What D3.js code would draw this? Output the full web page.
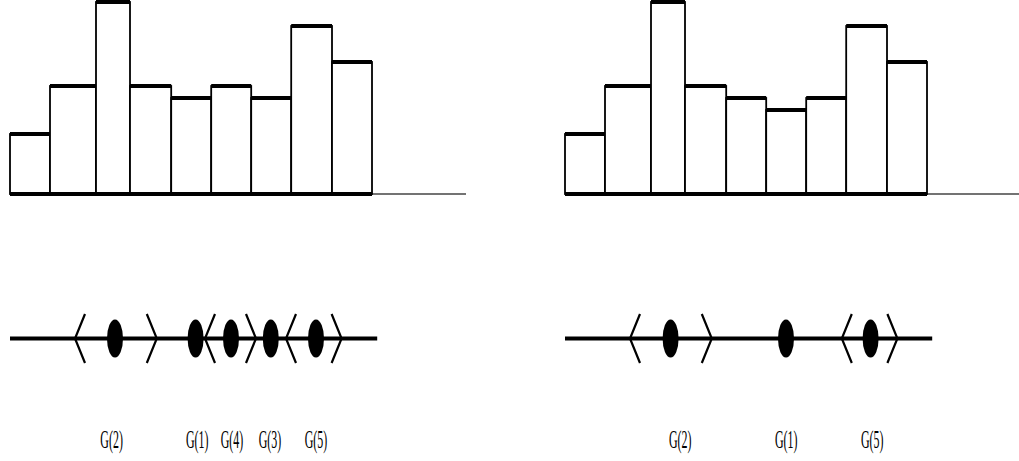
<!DOCTYPE html>
<html>
<head>
<meta charset="utf-8">
<script src="https://cdn.jsdelivr.net/npm/d3@7"></script>
<style>
  body { margin: 0; background: #fff; }
  svg { display: block; }
</style>
</head>
<body>
<script>
// bin edges shared by both histograms (x units)
var binEdges = [0, 1, 2.15, 3, 4.03, 5.03, 6.03, 7.03, 8.05, 9.05];
var countsLeft = [5, 9, 16, 9, 8, 9, 8, 14, 11];
var countsRight = [5, 9, 16, 9, 8, 7, 8, 14, 11];

// group centres on the lower line
var groupsLeft = ["G(2)", "G(1)", "G(4)", "G(3)", "G(5)"];
var centersLeft = [2.625, 4.64, 5.525, 6.52, 7.65];
var labelXLeft = [2.54, 4.68, 5.55, 6.5, 7.65];
// intervals drawn as < > brackets (null = none)
var lowLeft = [1.625, null, 4.875, null, 6.9];
var highLeft = [3.67, null, 6.15, null, 8.29];

var groupsRight = ["G(2)", "G(1)", "G(5)"];
var centersRight = [2.64, 5.525, 7.64];
var labelXRight = [2.88, 5.53, 7.68];
var lowRight = [1.625, null, 6.92];
var highRight = [3.67, null, 8.31];

var axisEnd = 11.4, lineEnd = 9.18;

var width = 1019, height = 461;
var svg = d3.select("body").append("svg")
    .attr("width", width)
    .attr("height", height);

var y = d3.scaleLinear().domain([0, 16]).range([194, 2]);

function drawPanel(x0, counts, groups, centers, labelX, low, high) {
    var x = d3.scaleLinear().domain([0, 10]).range([x0, x0 + 400]);
    var g = svg.append("g");

    var bins = counts.map(function(c, i) {
        return { x0: binEdges[i], x1: binEdges[i + 1], n: c };
    });

    // thin axis continuing past the bars
    g.append("line")
        .attr("x1", x(binEdges[binEdges.length - 1])).attr("x2", x(axisEnd))
        .attr("y1", y(0)).attr("y2", y(0))
        .style("stroke", "#444").style("stroke-width", 1.5);

    g.selectAll(".bar")
        .data(bins)
        .enter().append("rect")
        .attr("class", "bar")
        .attr("x", function(d) { return x(d.x0); })
        .attr("y", function(d) { return y(d.n); })
        .attr("width", function(d) { return x(d.x1) - x(d.x0); })
        .attr("height", function(d) { return y(0) - y(d.n); })
        .style("fill", "#fff")
        .style("stroke", "#000")
        .style("stroke-width", 1.8);

    // heavy bar tops
    g.selectAll(".top")
        .data(bins)
        .enter().append("line")
        .attr("class", "top")
        .attr("x1", function(d) { return x(d.x0); })
        .attr("x2", function(d) { return x(d.x1); })
        .attr("y1", function(d) { return y(d.n); })
        .attr("y2", function(d) { return y(d.n); })
        .style("stroke", "#000").style("stroke-width", 4);

    // heavy base under the bars
    g.append("line")
        .attr("x1", x(binEdges[0])).attr("x2", x(binEdges[binEdges.length - 1]))
        .attr("y1", y(0)).attr("y2", y(0))
        .style("stroke", "#000").style("stroke-width", 4);

    // lower line with group centres
    var ly = 338.5;
    g.append("line")
        .attr("x1", x(0)).attr("x2", x(lineEnd))
        .attr("y1", ly).attr("y2", ly)
        .style("stroke", "#000").style("stroke-width", 4);

    var pts = groups.map(function(name, i) {
        return { name: name, c: centers[i], lx: labelX[i], lo: low[i], hi: high[i] };
    });

    g.selectAll(".dot")
        .data(pts)
        .enter().append("ellipse")
        .attr("class", "dot")
        .attr("cx", function(d) { return x(d.c); })
        .attr("cy", ly)
        .attr("rx", 8)
        .attr("ry", 19)
        .style("fill", "#000");

    var br = pts.filter(function(d) { return d.lo !== null; });
    var armW = 10, armH = 24.5;

    g.selectAll(".lo")
        .data(br)
        .enter().append("path")
        .attr("class", "lo")
        .attr("d", function(d) {
            var t = x(d.lo);
            return "M" + (t + armW) + "," + (ly - armH) + "L" + t + "," + ly + "L" + (t + armW) + "," + (ly + armH);
        })
        .style("fill", "none").style("stroke", "#000").style("stroke-width", 2.2);

    g.selectAll(".hi")
        .data(br)
        .enter().append("path")
        .attr("class", "hi")
        .attr("d", function(d) {
            var t = x(d.hi);
            return "M" + (t - armW) + "," + (ly - armH) + "L" + t + "," + ly + "L" + (t - armW) + "," + (ly + armH);
        })
        .style("fill", "none").style("stroke", "#000").style("stroke-width", 2.2);

    g.selectAll(".lab")
        .data(pts)
        .enter().append("text")
        .attr("class", "lab")
        .attr("transform", function(d) { return "translate(" + x(d.lx) + ",448) scale(0.46,1)"; })
        .attr("text-anchor", "middle")
        .style("font-family", "'Liberation Serif', 'DejaVu Serif', serif")
        .style("font-size", "26px")
        .style("fill", "#000")
        .text(function(d) { return d.name; });
}

drawPanel(10, countsLeft, groupsLeft, centersLeft, labelXLeft, lowLeft, highLeft);
drawPanel(565, countsRight, groupsRight, centersRight, labelXRight, lowRight, highRight);
</script>
</body>
</html>
